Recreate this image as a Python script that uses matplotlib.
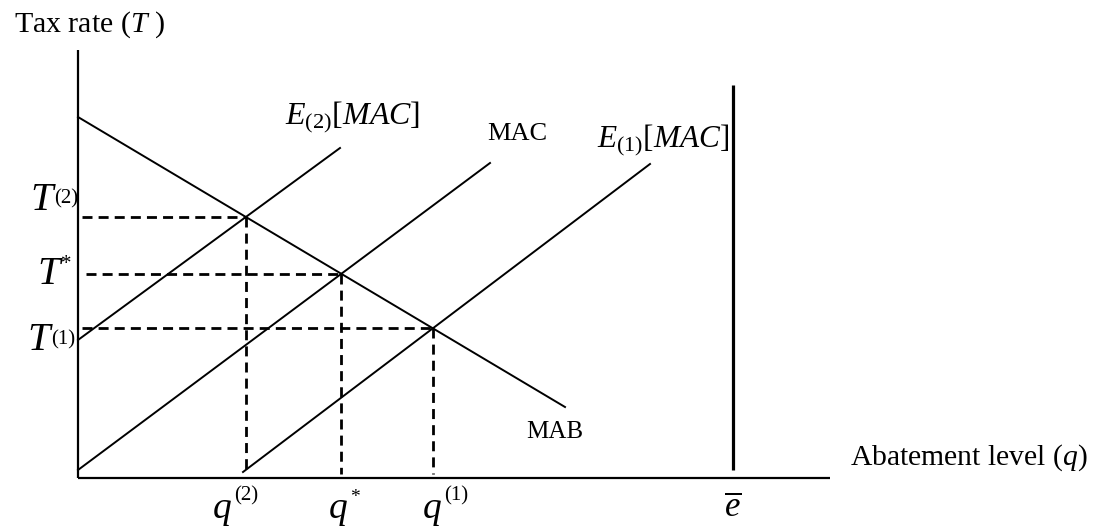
import numpy as np
import matplotlib
matplotlib.use("Agg")
import matplotlib.pyplot as plt

plt.rcParams["font.family"] = ["Liberation Serif", "DejaVu Serif"]
plt.rcParams["mathtext.fontset"] = "custom"
plt.rcParams["mathtext.rm"] = "Liberation Serif"
plt.rcParams["mathtext.it"] = "Liberation Serif:italic"

# curve end points (abatement q, tax rate T) in diagram units
mab_q = [0, 487]
mab_t = [361, 71]
mac_q = [0, 412]
mac_t = [8, 315]
e2_q = [0, 262]
e2_t = [138, 330]
e1_q = [165, 572]
e1_t = [6, 314]
e_bar = 655
e_bar_top = 393

marks = ["(2)", "*", "(1)"]

# label nudges from each equilibrium, hand placed
t_nudge = [(-25, 7), (-18, -10), (-28, -22)]
q_nudge = [-33, -13, -10]


def line(q, t):
    slope = (t[1] - t[0]) / (q[1] - q[0])
    return slope, t[0] - slope * q[0]


def cross(a, b):
    (m1, c1), (m2, c2) = line(*a), line(*b)
    x = (c2 - c1) / (m1 - m2)
    return x, m1 * x + c1


fig = plt.figure(figsize=(10.95, 5.28), dpi=100)
ax = fig.add_axes([0, 0, 1, 1])
ax.set_xlim(-78, 1017)
ax.set_ylim(-50, 478)
ax.axis("off")

# axes
ax.plot([0, 0], [0, 428], color="black", lw=1.6, solid_capstyle="butt")
ax.plot([0, 752], [0, 0], color="black", lw=1.6, solid_capstyle="butt")

curves = [(mab_q, mab_t), (mac_q, mac_t), (e2_q, e2_t), (e1_q, e1_t)]
for q, t in curves:
    ax.plot(q, t, color="black", lw=1.4)

ax.plot([e_bar, e_bar], [8, e_bar_top], color="black", lw=2.3,
        solid_capstyle="butt")

# equilibria: MAB against E2, MAC, E1
points = [cross(curves[0], curves[2]), cross(curves[0], curves[1]),
          cross(curves[0], curves[3])]
starts = [4, 8, 4]
for (x, y), s in zip(points, starts):
    ax.plot([s, x], [y, y], color="black", lw=2.0, dashes=(3.6, 2.2))
    ax.plot([x, x], [y, 4], color="black", lw=2.0, dashes=(3.6, 2.2))

it = dict(family="Liberation Serif", style="italic")
for (x, y), m, (dx, dy) in zip(points, marks, t_nudge):
    ty = y + dy
    ax.text(dx, ty, "T", fontsize=29, ha="right", va="baseline", **it)
    if m == "*":
        ax.text(dx + 1, ty + 19, m, fontsize=15, ha="left", va="center")
    else:
        ax.text(dx + 1, ty + 6, m, fontsize=15, ha="left", va="baseline")

for (x, y), m, dx in zip(points, marks, q_nudge):
    ax.text(x + dx, -40, "q", fontsize=27, ha="left", va="baseline", **it)
    if m == "*":
        ax.text(x + dx + 22, -19, m, fontsize=14, ha="left", va="center")
    else:
        ax.text(x + dx + 21, -22, m, fontsize=15, ha="left", va="baseline")

ax.text(e_bar, -30, r"$\overline{e}$", fontsize=25, ha="center", va="center")

ax.text(-64, 453, r"Tax rate ($T$ )", fontsize=21.5, ha="left", va="center")
ax.text(772, 20, r"Abatement level ($q$)", fontsize=21.3, ha="left",
        va="center")
ax.text(207, 354, r"$E_{(2)}[MAC]$", fontsize=23, ha="left",
        va="baseline")
ax.text(519, 331, r"$E_{(1)}[MAC]$", fontsize=22.5, ha="left",
        va="baseline")
ax.text(409, 338, "MAC", fontsize=19, ha="left", va="baseline")
ax.text(448, 40, "MAB", fontsize=18, ha="left", va="baseline")

fig.savefig("out.png", dpi=100)
